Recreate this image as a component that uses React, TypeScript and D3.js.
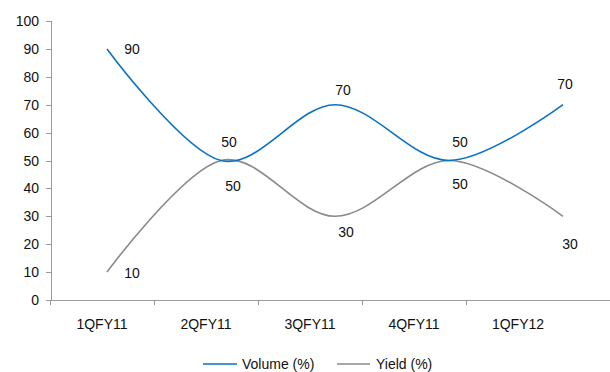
import React from "react";
import * as d3 from "d3";

const categories = ["1QFY11", "2QFY11", "3QFY11", "4QFY11", "1QFY12"];
const volume = [90, 50, 70, 50, 70];
const yieldPct = [10, 50, 30, 50, 30];
const yTicks = [0, 10, 20, 30, 40, 50, 60, 70, 80, 90, 100];

// data-label offsets from each point, [dx, dy] to the text baseline centre
const volumeLabelOffset: [number, number][] = [
  [25, 5],
  [8, -14],
  [8, -10],
  [11, -14],
  [2, -16],
];
const yieldLabelOffset: [number, number][] = [
  [25, 6],
  [12, 30],
  [11, 21],
  [11, 28],
  [7, 33],
];

const W = 610;
const H = 372;
const BLUE = "#0a72c6";
const GRAY = "#8a8a8a";
const AXIS = "#9a9a9a";
const FONT = "'Liberation Sans', Arial, sans-serif";

export default function App() {
  const y = d3.scaleLinear().domain([0, 100]).range([300, 21]);
  const band = d3.scaleBand<string>().domain(categories).range([50, 570]);
  const px = d3.scalePoint<string>().domain(categories).range([107, 563]);

  const line = d3
    .line<number>()
    .x((_, i) => px(categories[i]) as number)
    .y((v) => y(v))
    .curve(d3.curveCardinal.tension(0));

  const labels = (vals: number[], offs: [number, number][], key: string) =>
    vals.map((v, i) => (
      <text
        key={key + i}
        x={(px(categories[i]) as number) + offs[i][0]}
        y={y(v) + offs[i][1]}
        textAnchor="middle"
        fontSize={14}
        fill="#111"
      >
        {v}
      </text>
    ));

  return (
    <svg
      width={W}
      height={H}
      style={{ position: "absolute", left: 0, top: 0, background: "#fff" }}
      fontFamily={FONT}
    >
      {/* y axis */}
      <line x1={51.5} x2={51.5} y1={21} y2={300} stroke={AXIS} />
      {yTicks.map((t) => (
        <g key={t}>
          <line x1={46} x2={51.5} y1={Math.round(y(t)) + 0.5} y2={Math.round(y(t)) + 0.5} stroke={AXIS} />
          <text x={39} y={y(t) + 5} textAnchor="end" fontSize={14} fill="#111">
            {t}
          </text>
        </g>
      ))}

      {/* x axis */}
      <line x1={46} x2={W} y1={300.5} y2={300.5} stroke={AXIS} />
      {categories.map((c) => (
        <g key={c}>
          <line
            x1={(band(c) as number) + 0.5}
            x2={(band(c) as number) + 0.5}
            y1={300}
            y2={305}
            stroke={AXIS}
          />
          <text
            x={(band(c) as number) + band.bandwidth() / 2}
            y={329}
            textAnchor="middle"
            fontSize={14}
            fill="#111"
          >
            {c}
          </text>
        </g>
      ))}

      {/* series */}
      <path d={line(yieldPct) || ""} fill="none" stroke={GRAY} strokeWidth={1.6} />
      <path d={line(volume) || ""} fill="none" stroke={BLUE} strokeWidth={1.6} />

      {/* data labels */}
      {labels(volume, volumeLabelOffset, "v")}
      {labels(yieldPct, yieldLabelOffset, "y")}

      {/* legend */}
      <line x1={203} x2={237} y1={364} y2={364} stroke={BLUE} strokeWidth={1.6} />
      <text x={242} y={369} fontSize={14} fill="#111">Volume (%)</text>
      <line x1={337} x2={370} y1={364} y2={364} stroke={GRAY} strokeWidth={1.6} />
      <text x={376} y={369} fontSize={14} fill="#111">Yield (%)</text>
    </svg>
  );
}
